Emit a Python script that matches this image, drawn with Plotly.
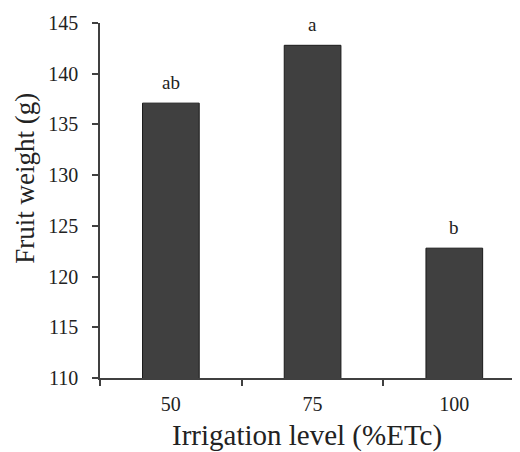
import plotly.graph_objects as go

categories = ["50", "75", "100"]
fruit_weight = [137.1, 142.8, 122.8]
letters = ["ab", "a", "b"]
y_ticks = [110, 115, 120, 125, 130, 135, 140, 145]

FONT = "Liberation Serif"
TXT = "#222222"

fig = go.Figure()
fig.add_trace(go.Bar(
    x=list(range(len(categories))),
    y=fruit_weight,
    width=0.40,
    marker=dict(color="#404040", line=dict(color="#1a1a1a", width=1)),
    showlegend=False,
))

for i, (v, t) in enumerate(zip(fruit_weight, letters)):
    fig.add_annotation(
        x=i, y=v, xref="x", yref="y", text=t, showarrow=False,
        yanchor="bottom", yshift=8,
        font=dict(family=FONT, size=19, color=TXT),
    )

# axis titles as annotations (page has an 8px body margin; layout compensates)
fig.add_annotation(
    xref="paper", yref="paper", x=-0.176, y=0.563,
    text="Fruit weight (g)", textangle=-90, showarrow=False,
    xanchor="center", yanchor="middle",
    font=dict(family=FONT, size=27, color=TXT),
)
fig.add_annotation(
    xref="paper", yref="paper", x=0.484, y=-0.161,
    text="Irrigation level (%ETc)", showarrow=False,
    xanchor="center", yanchor="middle",
    font=dict(family=FONT, size=29, color=TXT),
)

fig.update_layout(
    width=520, height=452,
    margin=dict(l=92, r=0, t=15, b=82),
    paper_bgcolor="white", plot_bgcolor="white",
    font=dict(family=FONT, size=20, color=TXT),
    xaxis=dict(
        range=[-0.5, 2.52],
        tickvals=list(range(len(categories))),
        ticktext=categories,
        showline=True, linecolor="#404040", linewidth=1.5,
        ticks="", showgrid=False, zeroline=False,
        tickfont=dict(family=FONT, size=20, color=TXT),
        ticklabelstandoff=7,
        minor=dict(tickvals=[-0.5, 0.5, 1.5], ticks="outside", ticklen=6,
                   tickcolor="#404040", tickwidth=1.5, showgrid=False),
    ),
    yaxis=dict(
        range=[110, 145],
        tickvals=y_ticks,
        showline=True, linecolor="#404040", linewidth=1.5,
        ticks="outside", ticklen=6, tickcolor="#404040", tickwidth=1.5,
        showgrid=False, zeroline=False,
        tickfont=dict(family=FONT, size=20, color=TXT),
        ticklabelstandoff=10,
    ),
)

fig.write_html("out.html")
